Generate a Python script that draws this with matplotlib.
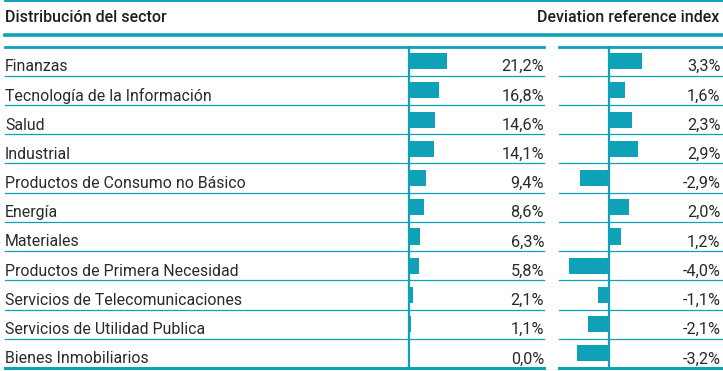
import matplotlib
matplotlib.use("Agg")
import matplotlib.pyplot as plt
import matplotlib.transforms as mtransforms

sectors = ["Finanzas", "Tecnología de la Información", "Salud", "Industrial",
           "Productos de Consumo no Básico", "Energía", "Materiales",
           "Productos de Primera Necesidad", "Servicios de Telecomunicaciones",
           "Servicios de Utilidad Publica", "Bienes Inmobiliarios"]
weights = [21.2, 16.8, 14.6, 14.1, 9.4, 8.6, 6.3, 5.8, 2.1, 1.1, 0.0]
deviation = [3.3, 1.6, 2.3, 2.9, -2.9, 2.0, 1.2, -4.0, -1.1, -2.1, -3.2]
title_left = "Distribución del sector"
title_right = "Deviation reference index"

fam = ["Roboto", "DejaVu Sans"]

TEAL = "#0ea1b7"
TXT = "#2a2a2a"
W, H = 723, 371
fig = plt.figure(figsize=(W / 100, H / 100), dpi=100)
bg = fig.add_axes([0, 0, 1, 1])
bg.set_xlim(0, W)
bg.set_ylim(H, 0)
bg.axis("off")

def fx(px):
    return px / W

def fy(py):
    return 1 - py / H

top, bottom = 46.5, 368
n = len(sectors)

def make_ax(x0, x1, zero, scale):
    ax = fig.add_axes([fx(x0), fy(bottom), fx(x1) - fx(x0), (bottom - top) / H])
    ax.set_xlim(-(zero - x0) / scale, (x1 - zero) / scale)
    ax.set_ylim(n - 0.5, -0.5)
    ax.axis("off")
    ax.patch.set_alpha(0)
    return ax

axL = make_ax(5, 544, 409, 1.79)
axR = make_ax(559, 723, 609, 10.0)
ypos = list(range(n))
axL.barh(ypos, weights, height=0.55, color=TEAL, zorder=3)
axR.barh(ypos, deviation, height=0.55, color=TEAL, zorder=3)

for ax in (axL, axR):
    tr = ax.get_yaxis_transform()
    for i in range(1, n):
        ax.plot([0, 1], [i - 0.5, i - 0.5], transform=tr,
                color=TEAL, lw=0.9, zorder=2, clip_on=False)
    ax.plot([0, 1], [-0.5, -0.5], transform=tr,
            color=TEAL, lw=2.0, zorder=2, clip_on=False)
    ax.plot([0, 1], [n - 0.5, n - 0.5], transform=tr,
            color=TEAL, lw=2.2, zorder=2, clip_on=False)
    ax.axvline(0, color=TEAL, lw=1.6, zorder=4, clip_on=False)

def fmt(v):
    return f"{v:.1f}%".replace(".", ",")

offL = mtransforms.offset_copy(axL.transData, fig=fig, x=0, y=-5.5, units="dots")
bl = mtransforms.blended_transform_factory(axL.transAxes, offL)
for i, (s, w) in enumerate(zip(sectors, weights)):
    axL.text(0.0, i, s, transform=bl, ha="left", va="center",
             fontsize=11.4, color=TXT, family=fam)
    axL.text(1.0, i, fmt(w), transform=bl, ha="right", va="center",
             fontsize=11.7, color=TXT, family=fam)
offR = mtransforms.offset_copy(axR.transData, fig=fig, x=0, y=-5.5, units="dots")
br = mtransforms.blended_transform_factory(axR.transAxes, offR)
for i, d in enumerate(deviation):
    axR.text(0.985, i, fmt(d), transform=br, ha="right", va="center",
             fontsize=11.7, color=TXT, family=fam)

bg.plot([5, W], [1, 1], color=TEAL, lw=1.4)
bg.plot([5, W], [34.5, 34.5], color=TEAL, lw=2.6)
bg.text(5, 18, title_left, ha="left", va="center", fontsize=11.5,
        color="#1e1e1e", family=fam, weight="medium")
bg.text(719, 18, title_right, ha="right", va="center", fontsize=11.5,
        color="#1e1e1e", family=fam, weight="medium")

fig.savefig("out.png", dpi=100)
